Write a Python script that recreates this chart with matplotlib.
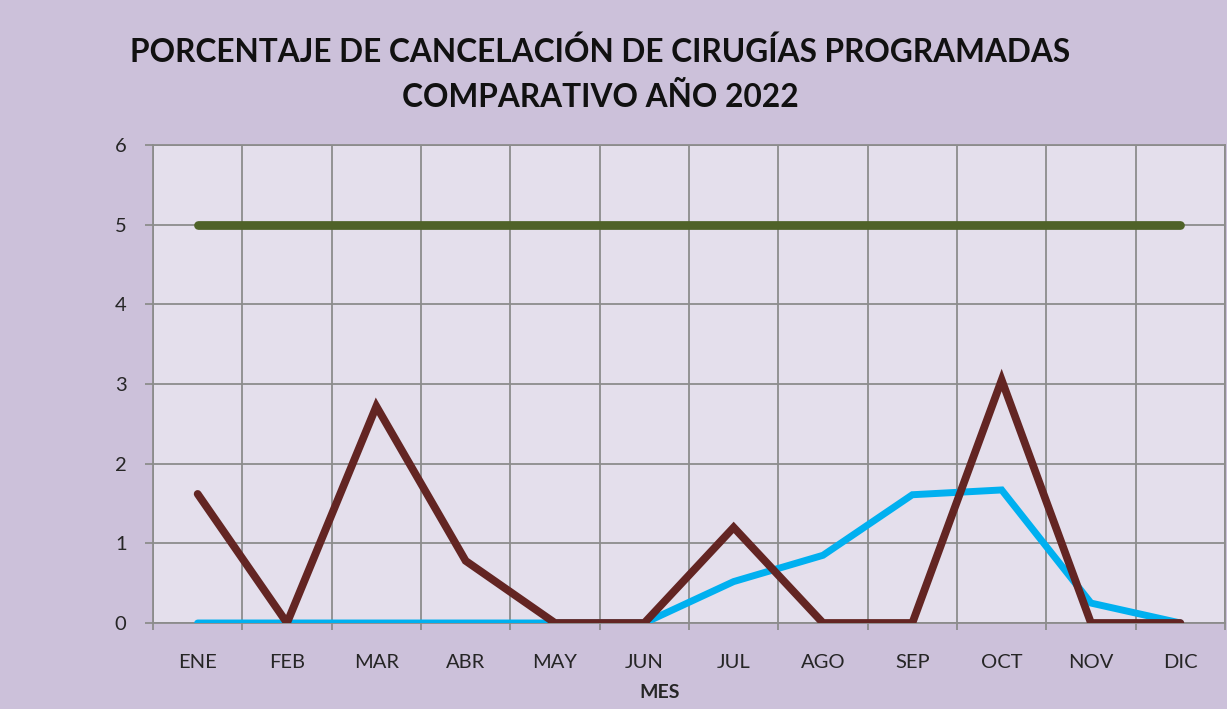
import matplotlib
matplotlib.use("Agg")
import matplotlib.pyplot as plt
import numpy as np

months = ["ENE", "FEB", "MAR", "ABR", "MAY", "JUN", "JUL", "AGO", "SEP", "OCT", "NOV", "DIC"]
serie_marron = [1.62, 0.0, 2.72, 0.78, 0.0, 0.0, 1.2, 0.0, 0.0, 3.05, 0.0, 0.0]
serie_azul = [0.0, 0.0, 0.0, 0.0, 0.0, 0.0, 0.52, 0.85, 1.61, 1.67, 0.25, 0.0]
meta = [5, 5, 5, 5, 5, 5, 5, 5, 5, 5, 5, 5]
yticks = [0, 1, 2, 3, 4, 5, 6]

plt.rcParams['font.family'] = ['Lato', 'DejaVu Sans']

W, H = 1227, 709
fig = plt.figure(figsize=(W / 100, H / 100), dpi=100)
fig.patch.set_facecolor('#CCC1DA')

ax = fig.add_axes([153 / W, (H - 623) / H, (1225 - 153) / W, (623 - 145) / H])
ax.set_facecolor('#E4DFEC')

x = np.arange(len(months))
ax.plot(x, serie_azul, color='#00B0F0', lw=5.0, solid_capstyle='round', solid_joinstyle='miter', zorder=3)
ax.plot(x, serie_marron, color='#632523', lw=5.6, solid_capstyle='round', solid_joinstyle='miter', zorder=4)
ax.plot(x, meta, color='#4F6228', lw=6.3, solid_capstyle='round', zorder=5)

ax.set_xlim(-0.5, len(months) - 0.5)
ax.set_ylim(0, 6)
ax.set_yticks(yticks)
ax.set_yticklabels([str(v) for v in yticks])
ax.set_xticks(x)
ax.set_xticklabels(months)
ax.set_xticks(np.arange(-0.5, len(months), 1.0), minor=True)

ax.grid(True, which='minor', axis='x', color='#8C8C8C', lw=1.3, zorder=1)
ax.grid(True, which='major', axis='y', color='#8C8C8C', lw=1.3, zorder=1)
ax.set_axisbelow(True)

for s in ax.spines.values():
    s.set_color('#8C8C8C')
    s.set_linewidth(1.3)

ax.tick_params(axis='x', which='major', length=0, pad=22, labelsize=14.5, colors='#262626')
ax.tick_params(axis='x', which='minor', length=5, color='#8C8C8C', width=1.3, direction='out')
ax.tick_params(axis='y', which='major', length=6, color='#8C8C8C', width=1.3, pad=13, labelsize=14.5, labelcolor='#262626')

fig.text(600 / W, 1 - 52 / H, "PORCENTAJE DE CANCELACIÓN DE CIRUGÍAS PROGRAMADAS",
         ha='center', va='center', fontsize=22.8, fontweight='bold', color='#111111')
fig.text(600 / W, 1 - 97 / H, "COMPARATIVO AÑO 2022",
         ha='center', va='center', fontsize=22.8, fontweight='bold', color='#111111')
fig.text(660 / W, 1 - 693 / H, "MES", ha='center', va='center', fontsize=14,
         fontweight='bold', color='#262626')

fig.savefig('out.png', dpi=100, facecolor=fig.get_facecolor())
